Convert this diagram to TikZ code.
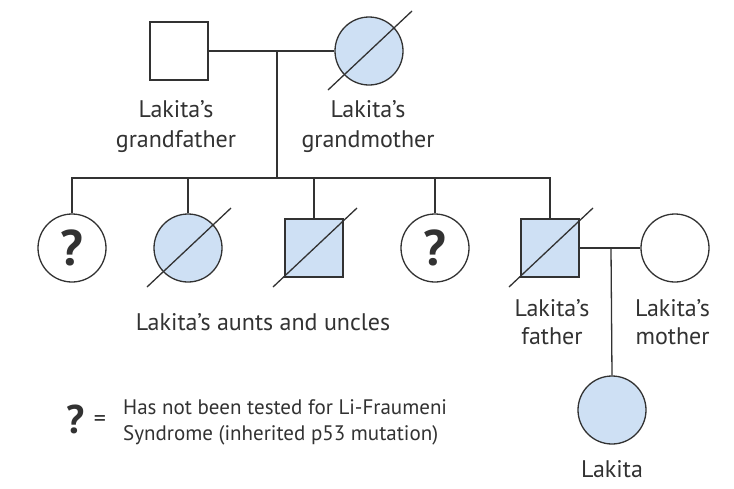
\documentclass[tikz,border=0pt]{standalone}
\usepackage{fontspec}
\setmainfont{PT Sans}
\usetikzlibrary{calc}
\definecolor{affc}{RGB}{206,224,244}
\definecolor{ln}{RGB}{50,50,50}
\begin{document}
\begin{tikzpicture}[x=1pt,y=-1pt,
  conn/.style={line width=1.3pt, draw=ln},
  male/.style={rectangle, draw=ln, line width=1.3pt, minimum size=58pt, inner sep=0pt},
  female/.style={circle, draw=ln, line width=1.3pt, minimum size=68pt, inner sep=0pt},
  aff/.style={fill=affc},
  qm/.style={font=\fontsize{50}{50}\selectfont\bfseries, text=ln},
  lbl/.style={font=\fontsize{24}{30}\selectfont, text=ln, align=center, inner sep=0pt},
  leg/.style={font=\fontsize{21}{26}\selectfont, text=ln, align=left, inner sep=0pt}]
\useasboundingbox (0,0) rectangle (734,488);
\fill[white] (0,0) rectangle (734,488);
% generation I
\node[male] (gf) at (179,51) {};
\node[female,aff] (gm) at (369,51) {};
\coordinate (m1) at (277,51);
\coordinate (s) at (277,178);
% generation II
\node[female,qm] (c1) at (72,248) {?};
\node[female,aff] (c2) at (188,248) {};
\node[male,aff] (c3) at (314,248) {};
\node[female,qm] (c4) at (435,248) {?};
\node[male,aff] (c5) at (550,248) {};
\node[female] (mo) at (675,248) {};
\coordinate (m2) at (611,248);
% generation III
\node[female,aff] (lk) at (612,410) {};
% connectors
\draw[conn] (gf.east) -- (gm.west);
\draw[conn] (m1) -- (s);
\draw[conn] (c1.north) -- (c1.north |- s) -- (c5.north |- s) -- (c5.north);
\draw[conn] (c2.north) -- (c2.north |- s);
\draw[conn] (c3.north) -- (c3.north |- s);
\draw[conn] (c4.north) -- (c4.north |- s);
\draw[conn] (c5.east) -- (mo.west);
\draw[conn] (m2) -- (lk.north);
% deceased slashes
\foreach \n in {gm,c2,c3,c5}
  \draw[conn] ($(\n)+(-41,39)$) -- ($(\n)+(43,-40)$);
% labels
\node[lbl] (lgf) at (176,127) {Lakita’s\\grandfather};
\node[lbl] (lgm) at (368,127) {Lakita’s\\grandmother};
\node[lbl, anchor=base] (lau) at (263,330) {Lakita’s aunts and uncles};
\node[lbl, font=\fontsize{24}{28}\selectfont] (lfa) at (552,322.5) {Lakita’s\\father};
\node[lbl, font=\fontsize{24}{28}\selectfont] (lmo) at (672.5,322.5) {Lakita’s\\mother};
\node[lbl, anchor=base] (llk) at (612,477) {Lakita};
% legend
\node[qm, font=\fontsize{40}{40}\selectfont\bfseries, anchor=base] (lq) at (75.5,433) {?};
\node[lbl] (leq) at (100,421) {=};
\node[leg, anchor=north west] (ltx) at (123,399) {Has not been tested for Li-Fraumeni\\Syndrome (inherited p53 mutation)};
\end{tikzpicture}
\end{document}
